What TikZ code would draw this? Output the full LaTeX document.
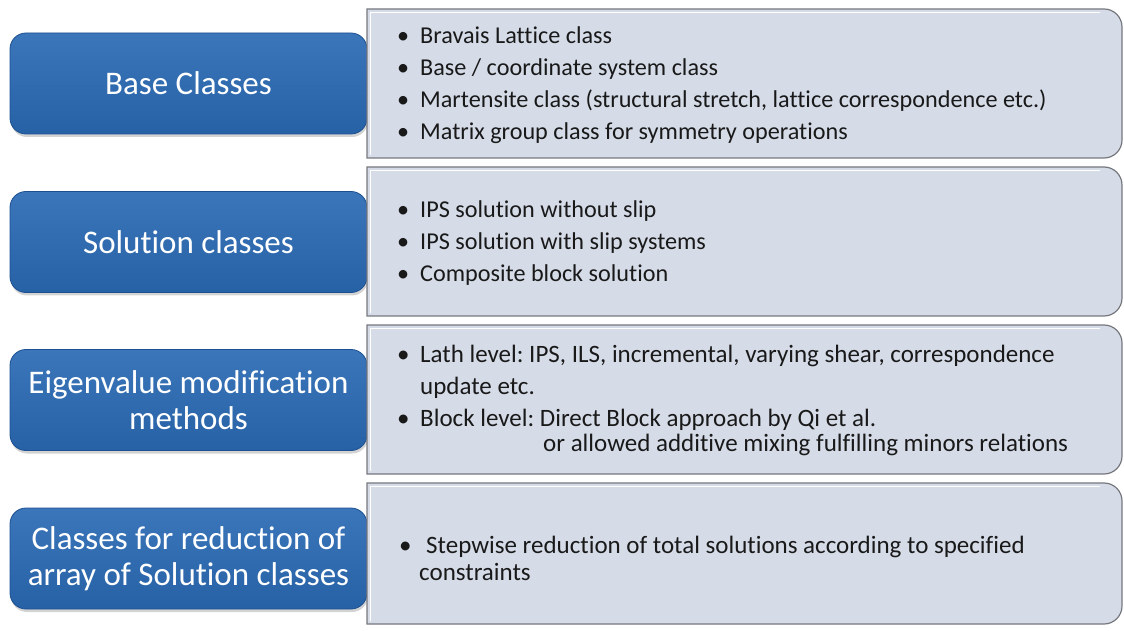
\documentclass[tikz,border=0pt]{standalone}
\usepackage{fontspec}
\setmainfont{Carlito}[Ligatures=NoCommon]
\usepackage{tikz}
\usetikzlibrary{shadows}
\definecolor{classblue}{RGB}{42,106,180}
\definecolor{classbluedark}{RGB}{28,80,145}
\definecolor{panelgray}{RGB}{213,220,232}
\definecolor{paneledge}{RGB}{118,120,126}
\newcommand{\pointmark}{\makebox[23pt][l]{\textbullet}}
\frenchspacing

\begin{document}
\begin{tikzpicture}[x=1pt, y=1pt,
    classbox/.style={draw=classbluedark, line width=0.8pt, top color=classblue!92!white,
        bottom color=classblue!92!black, rounded corners=16pt, minimum width=357pt,
        minimum height=101pt, align=center, text=white, inner sep=0pt,
        font=\fontsize{33}{36}\selectfont,
        drop shadow={opacity=0.35, shadow xshift=1pt, shadow yshift=-3pt}},
    panel/.style={draw=paneledge, line width=1.2pt, fill=panelgray},
    bevel/.style={draw=white, line width=1.6pt},
    items/.style={anchor=west, align=left, inner sep=0pt, text=black!90,
        font=\fontsize{24.2}{32}\selectfont}]
    \useasboundingbox (0,0) rectangle (1124,630);

    % blue class boxes
    \node[classbox] (base) at (188.5,546.5) {Base Classes};
    \node[classbox] (solution) at (188.5,388) {Solution classes};
    \node[classbox] (eigen) at (188.5,230) {Eigenvalue modification\\methods};
    \node[classbox] (reduction) at (188.5,71.5) {Classes for reduction of\\array of Solution classes};

    % grey panels, square on the left, round on the right
    \foreach \t/\b in {621/472, 463/314, 305/156, 147/6} {
        \draw[panel] (367,\t) -- (1104,\t) arc[start angle=90, end angle=0, radius=18]
            -- (1122,\b+18) arc[start angle=0, end angle=-90, radius=18] -- (367,\b) -- cycle;
        \draw[bevel] (370.5,\b+3) -- (370.5,\t-3.5) -- (1100,\t-3.5);
    }

    % contents of the panels
    \node[items] (baseitems) at (397,545) {%
        \pointmark Bravais Lattice class\\
        \pointmark Base / coordinate system class\\
        \pointmark Martensite class (structural stretch, lattice correspondence etc.)\\
        \pointmark Matrix group class for symmetry operations};
    \node[items] (solutionitems) at (397,387) {%
        \pointmark IPS solution without slip\\
        \pointmark IPS solution with slip systems\\
        \pointmark Composite block solution};
    \node[items, font=\fontsize{25}{32}\selectfont] (eigenitems) at (397,230) {%
        \pointmark Lath level: IPS, ILS, incremental, varying shear, correspondence\\
        \hspace*{23pt}update etc.\\
        \pointmark Block level: Direct Block approach by Qi et al.\\[-7pt]
        \hspace*{146pt}or allowed additive mixing fulfilling minors relations};
    \node[items, font=\fontsize{25}{27}\selectfont] (reductionitems) at (399,71.5) {%
        \makebox[27pt][l]{\textbullet}Stepwise reduction of total solutions according to specified\\
        \hspace*{20pt}constraints};
\end{tikzpicture}
\end{document}
